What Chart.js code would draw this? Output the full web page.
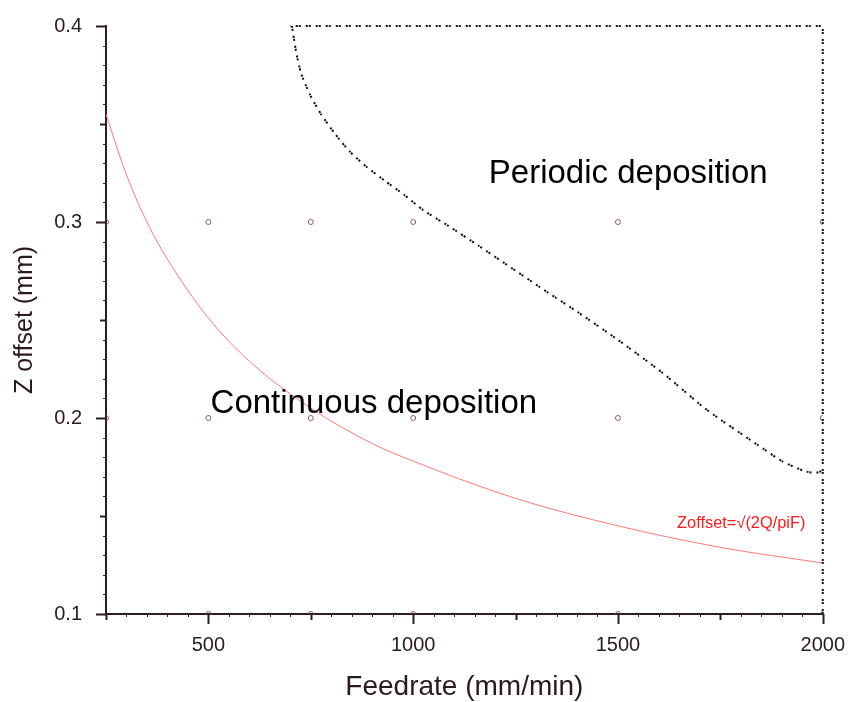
<!DOCTYPE html>
<html>
<head>
<meta charset="utf-8">
<script src="https://cdn.jsdelivr.net/npm/chart.js@4.4.1/dist/chart.umd.min.js"></script>
<style>
  html, body { margin: 0; padding: 0; background: #ffffff; }
  #wrap { width: 854px; height: 702px; }
</style>
</head>
<body>
<div id="wrap"><canvas id="zChart" width="854" height="702"></canvas></div>
<script>
// axis ranges / tick labels
const xMin = 250, xMax = 2000;
const yMin = 0.1, yMax = 0.4;
const xLabelValues = [500, 1000, 1500, 2000];

// experiment points (feedrate, z offset)
const testFeed = [250, 500, 750, 1000, 1500, 2000, 250, 500, 750, 1000, 1500, 2000, 500, 750, 1000, 1500, 2000];
const testZ    = [0.3, 0.3, 0.3, 0.3, 0.3, 0.3, 0.2, 0.2, 0.2, 0.2, 0.2, 0.2, 0.1, 0.1, 0.1, 0.1, 0.1];

// red theoretical curve Zoffset = sqrt(2Q/piF)
const curveFeed = [250, 300, 350, 400, 500, 600, 750, 900, 1000, 1250, 1500, 1750, 2000];
const curveZ    = [0.355, 0.324, 0.300, 0.281, 0.251, 0.229, 0.205, 0.187, 0.178, 0.159, 0.145, 0.134, 0.126];

// dotted boundary of periodic deposition region
const boundaryFeed = [704, 714, 726, 748, 775, 809, 845, 887, 931, 977, 1025, 1086, 1159, 1244, 1329, 1402, 1499, 1609, 1718, 1857, 1900, 1954, 1981, 2000];
const boundaryZ    = [0.400, 0.387, 0.376, 0.365, 0.355, 0.345, 0.336, 0.328, 0.321, 0.314, 0.306, 0.298, 0.288, 0.276, 0.264, 0.254, 0.240, 0.223, 0.204, 0.184, 0.178, 0.173, 0.172, 0.173];
const frameFeed = [2000, 2000, 700];
const frameZ    = [0.1, 0.4, 0.4];

const toPoints = (xs, ys) => xs.map((x, i) => ({ x: x, y: ys[i] }));

const FONT = "'Liberation Sans', Arial, sans-serif";
const AXIS_COLOR = '#2b1d20';

// tick marks drawn outward from the axes, three lengths
const tickMarks = {
    id: 'tickMarks',
    afterDraw(chart) {
        const ctx = chart.ctx;
        const xs = chart.scales.x, ys = chart.scales.y;
        const area = chart.chartArea;
        ctx.save();
        ctx.strokeStyle = AXIS_COLOR;
        for (let v = xMin; v <= xMax; v += 50) {
            const len = v % 500 === 0 ? 10 : (v % 250 === 0 ? 6 : 3);
            const px = Math.round(xs.getPixelForValue(v)) + 0.5;
            ctx.lineWidth = len > 3 ? 2 : 1;
            ctx.beginPath();
            ctx.moveTo(px, area.bottom);
            ctx.lineTo(px, area.bottom + len);
            ctx.stroke();
        }
        for (let k = 10; k <= 40; k++) {
            const len = k % 10 === 0 ? 10 : (k % 5 === 0 ? 6 : 3);
            const py = Math.round(ys.getPixelForValue(k / 100)) + 0.5;
            ctx.lineWidth = len > 3 ? 2 : 1;
            ctx.beginPath();
            ctx.moveTo(area.left, py);
            ctx.lineTo(area.left - len, py);
            ctx.stroke();
        }
        ctx.restore();
    }
};

// region labels
const regionLabels = {
    id: 'regionLabels',
    afterDatasetsDraw(chart) {
        const ctx = chart.ctx;
        const xs = chart.scales.x, ys = chart.scales.y;
        ctx.save();
        ctx.textAlign = 'center';
        ctx.textBaseline = 'middle';
        ctx.fillStyle = '#000000';
        ctx.font = '33px ' + FONT;
        ctx.fillText('Periodic deposition', xs.getPixelForValue(1525), ys.getPixelForValue(0.3245));
        ctx.fillText('Continuous deposition', xs.getPixelForValue(904), ys.getPixelForValue(0.2073));
        ctx.fillStyle = '#ff1a1a';
        ctx.font = '16.4px ' + FONT;
        ctx.fillText('Zoffset=\u221A(2Q/piF)', xs.getPixelForValue(1801), ys.getPixelForValue(0.146));
        ctx.restore();
    }
};

const ctx = document.getElementById('zChart').getContext('2d');
new Chart(ctx, {
    type: 'scatter',
    data: {
        datasets: [
            {
                label: 'tests',
                data: toPoints(testFeed, testZ),
                showLine: false,
                pointStyle: 'circle',
                pointRadius: 2.5,
                pointBorderWidth: 1,
                pointBorderColor: 'rgb(140, 92, 110)',
                pointBackgroundColor: 'rgba(0,0,0,0)',
                order: 3
            },
            {
                label: 'theory',
                data: toPoints(curveFeed, curveZ),
                showLine: true,
                borderColor: 'rgb(255, 120, 120)',
                borderWidth: 1,
                pointRadius: 0,
                cubicInterpolationMode: 'monotone',
                order: 2
            },
            {
                label: 'boundary',
                data: toPoints(boundaryFeed, boundaryZ),
                showLine: true,
                borderColor: '#111111',
                borderWidth: 2,
                borderDash: [2, 1, 2, 5],
                pointRadius: 0,
                tension: 0.2,
                clip: false,
                order: 1
            },
            {
                label: 'frame',
                data: toPoints(frameFeed, frameZ),
                showLine: true,
                borderColor: '#111111',
                borderWidth: 2,
                borderDash: [2, 1, 2, 5],
                pointRadius: 0,
                tension: 0,
                clip: false,
                order: 1
            }
        ]
    },
    options: {
        responsive: false,
        animation: false,
        layout: {
            padding: { top: 21, right: 28, left: 0, bottom: 0 }
        },
        scales: {
            x: {
                type: 'linear',
                min: xMin,
                max: xMax,
                afterFit: (scale) => { scale.height = 88; },
                border: { display: true, color: AXIS_COLOR, width: 2 },
                grid: { display: true, drawOnChartArea: false, drawTicks: true, tickLength: 10, tickColor: 'rgba(0,0,0,0)' },
                ticks: {
                    stepSize: 250,
                    autoSkip: false,
                    maxRotation: 0,
                    padding: 9,
                    color: '#2a1a1c',
                    font: { family: FONT, size: 20 },
                    callback: (v) => xLabelValues.includes(v) ? String(v) : ''
                },
                title: {
                    display: true,
                    text: 'Feedrate (mm/min)',
                    color: '#2a1a1c',
                    font: { family: FONT, size: 28, lineHeight: 1.05 },
                    padding: { top: 0, bottom: 0 }
                }
            },
            y: {
                type: 'linear',
                min: yMin,
                max: yMax,
                afterFit: (scale) => { scale.width = 106; },
                border: { display: true, color: AXIS_COLOR, width: 2 },
                grid: { display: true, drawOnChartArea: false, drawTicks: true, tickLength: 10, tickColor: 'rgba(0,0,0,0)' },
                ticks: {
                    stepSize: 0.1,
                    padding: 14,
                    color: '#2a1a1c',
                    font: { family: FONT, size: 20 },
                    callback: (v) => Number(v).toFixed(1)
                },
                title: {
                    display: true,
                    text: 'Z offset (mm)',
                    color: '#2a1a1c',
                    font: { family: FONT, size: 25, lineHeight: 1.05 },
                    padding: { top: 12, bottom: 0 }
                }
            }
        },
        plugins: {
            legend: { display: false },
            tooltip: { enabled: false }
        }
    },
    plugins: [tickMarks, regionLabels]
});
</script>
</body>
</html>
